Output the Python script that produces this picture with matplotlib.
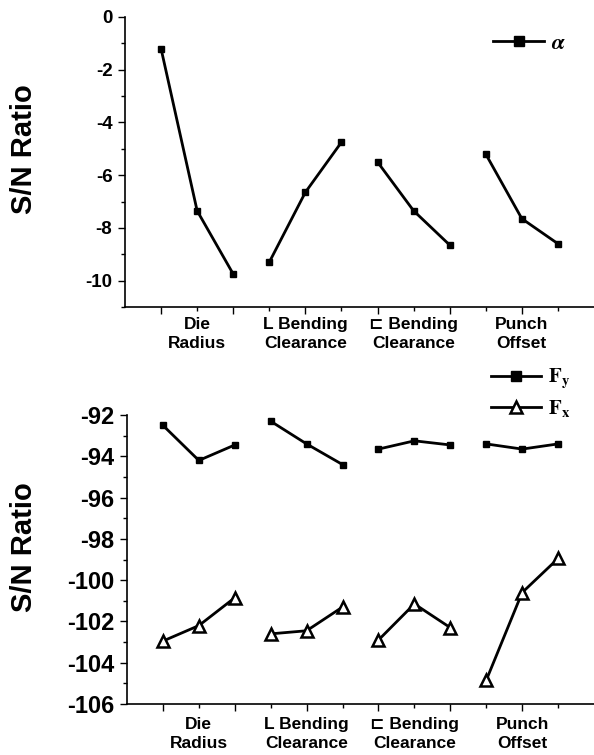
import numpy as np
import matplotlib
matplotlib.use("Agg")
import matplotlib.pyplot as plt
from matplotlib.lines import Line2D

plt.rcParams['font.family'] = ['Liberation Sans', 'DejaVu Sans']
plt.rcParams['font.weight'] = 'bold'
plt.rcParams['mathtext.fontset'] = 'stix'
plt.rcParams['axes.unicode_minus'] = False

# factors (3 levels each), S/N ratios
factors = ['Die\nRadius', 'L Bending\nClearance', '\u228f Bending\nClearance', 'Punch\nOffset']
levels = 3
alpha_sn = [-1.2, -7.35, -9.75, -9.3, -6.65, -4.75, -5.5, -7.35, -8.65, -5.2, -7.65, -8.6]
fy_sn = [-92.5, -94.2, -93.45, -92.3, -93.4, -94.4, -93.65, -93.25, -93.45, -93.4, -93.65, -93.4]
fx_sn = [-102.95, -102.2, -100.85, -102.6, -102.45, -101.3, -102.9, -101.15, -102.3, -104.85, -100.6, -98.95]

x = np.arange(1, len(factors) * levels + 1)
centers = [x[i * levels:(i + 1) * levels].mean() for i in range(len(factors))]

fig = plt.figure(figsize=(5.94, 7.55), dpi=100)
ax1 = fig.add_axes([0.2104, 0.5934, 0.7896, 0.3841])
ax2 = fig.add_axes([0.2138, 0.0675, 0.7862, 0.3828])


def plot_groups(ax, vals, **kw):
    for i in range(len(factors)):
        s = slice(i * levels, (i + 1) * levels)
        ax.plot(x[s], vals[s], color='black', lw=2, **kw)


plot_groups(ax1, alpha_sn, marker='s', ms=5)
plot_groups(ax2, fy_sn, marker='s', ms=5)
plot_groups(ax2, fx_sn, marker='^', ms=8, mfc='white', mec='black', mew=1.8)


def style(ax, tick_size, label_y):
    for sp in ['top', 'right']:
        ax.spines[sp].set_visible(False)
    ax.spines['left'].set_linewidth(1.2)
    ax.spines['bottom'].set_linewidth(1.2)
    ax.set_xlim(0, 13)
    ax.set_xticks(x[::2])
    ax.set_xticks(x[1::2], minor=True)
    ax.set_xticklabels([])
    ax.tick_params(axis='x', which='major', direction='out', length=5, width=1)
    ax.tick_params(axis='x', which='minor', direction='out', length=3, width=1)
    ax.tick_params(axis='y', which='major', direction='out', length=5, width=1,
                   labelsize=tick_size, pad=4)
    ax.tick_params(axis='y', which='minor', direction='out', length=3, width=1)
    for c, name in zip(centers, factors):
        ax.text(c, label_y, name, transform=ax.get_xaxis_transform(), ha='center',
                va='top', fontsize=12.5, fontweight='bold', linespacing=1.3)
    ax.set_ylabel('S/N Ratio', fontsize=21, fontweight='bold', va='center')


ax1.set_ylim(-11, 0)
ax1.set_yticks(np.arange(-10, 1, 2))
ax1.set_yticks(np.arange(-11, 0, 2), minor=True)
style(ax1, 13.5, -0.035)
ax1.yaxis.set_label_coords(-0.215, 0.545)

ax2.set_ylim(-106, -92)
ax2.set_yticks(np.arange(-106, -91, 2))
ax2.set_yticks(np.arange(-105, -92, 2), minor=True)
style(ax2, 17, -0.045)
ax2.yaxis.set_label_coords(-0.22, 0.543)

h_a = [Line2D([], [], color='black', lw=2, marker='s', ms=7)]
leg1 = ax1.legend(h_a, [r'$\alpha$'], loc='center left', bbox_to_anchor=(0.785, 0.91),
                  frameon=False, borderpad=0, borderaxespad=0,
                  handlelength=2.3, handletextpad=0.3, fontsize=16)

h_f = [Line2D([], [], color='black', lw=2, marker='s', ms=7),
       Line2D([], [], color='black', lw=2, marker='^', ms=8, mfc='white', mew=1.8)]
leg2 = ax2.legend(h_f, [r'$\mathbf{F_y}$', r'$\mathbf{F_x}$'], loc='center left',
                  bbox_to_anchor=(0.78, 1.076), frameon=False, borderpad=0,
                  borderaxespad=0, handlelength=2.4, handletextpad=0.3,
                  fontsize=15, labelspacing=0.35)

fig.savefig('out.png', dpi=100)
